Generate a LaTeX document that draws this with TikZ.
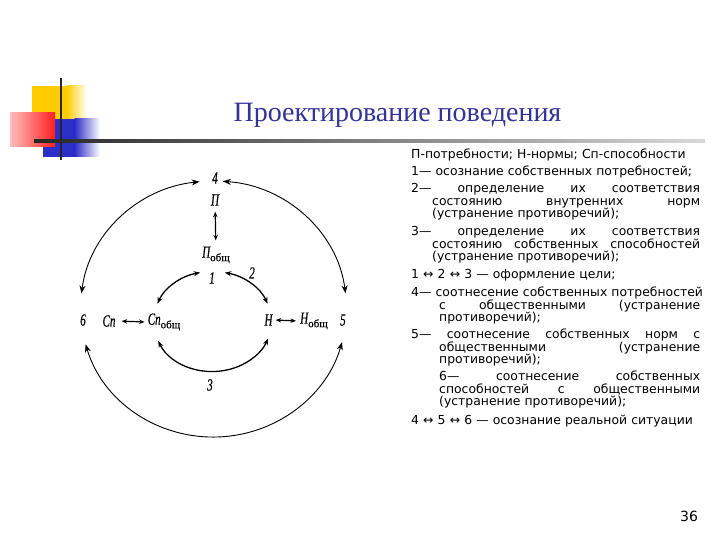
\documentclass[tikz,border=0pt]{standalone}
\usepackage{fontspec}
\setmainfont{DejaVu Sans}
\newfontfamily\txtfnt{DejaVu Sans}
\newfontfamily\dgmfnt{Liberation Serif}[FakeStretch=0.65,FakeBold=0.5]
\newfontfamily\subfnt{Liberation Serif}[FakeBold=0.4]
\newfontfamily\ttlfnt{Liberation Serif}
\usetikzlibrary{arrows.meta,calc}
\definecolor{ttlblue}{RGB}{51,51,153}
\definecolor{dyellow}{RGB}{255,204,0}
\definecolor{dblue}{RGB}{45,45,200}
\definecolor{dred}{RGB}{255,30,30}
\definecolor{dpink}{RGB}{255,190,190}
\newcommand\myjust[2]{\hbox to 289pt{\hskip#1\relax #2}}
\newcommand\myleft[2]{\hbox to 289pt{\hskip#1\relax #2\hfil}}
\newcommand\sub[1]{\raisebox{-3.5pt}{\subfnt\upshape\fontsize{11}{11}\selectfont #1}}
\tikzset{
  lbl/.style={inner sep=1pt, font=\dgmfnt\itshape\fontsize{17}{17}\selectfont},
  outerarc/.style={line width=0.9pt, {Stealth[length=8pt,width=6pt]}-{Stealth[length=8pt,width=6pt]}},
  innerarc/.style={line width=1.3pt, {Stealth[length=6.5pt,width=5pt]}-{Stealth[length=6.5pt,width=5pt]}},
  shortarr/.style={line width=1.2pt, {Stealth[length=5.5pt,width=4.5pt]}-{Stealth[length=5.5pt,width=4.5pt]}}
}
\begin{document}
\begin{tikzpicture}[x=1pt,y=1pt]
\useasboundingbox (0,0) rectangle (720,-540);
\fill[white] (0,0) rectangle (720,-540);
% decoration
\fill[dyellow] (32,-86) rectangle (67,-119);
\shade[left color=dyellow, right color=white] (66.5,-86) rectangle (87,-119);
\fill[dblue] (43,-119) rectangle (75,-157);
\shade[left color=dblue, right color=white] (74.5,-119) rectangle (100,-157);
\shade[left color=dpink, right color=dred] (10,-113) rectangle (55,-147);
\shade[left color=black!85, right color=black!15] (34,-139.3) rectangle (705,-142.7);
\fill[black!85] (59.8,-78) rectangle (62.2,-160);
% title
\node[anchor=base, text=ttlblue, font=\ttlfnt\fontsize{28}{28}\selectfont] (title) at (397.5,-122) {Проектирование поведения};
% diagram labels
\node[lbl] (n4) at (215,-178) {4};
\node[lbl] (P) at (215,-200) {П};
\node[lbl] (Pob) at (216,-255) {П\sub{общ}};
\node[lbl] (n1) at (212,-278) {1};
\node[lbl] (n2) at (252,-273) {2};
\node[lbl] (n6) at (83,-320) {6};
\node[lbl] (Sp) at (109,-321) {Сп};
\node[lbl] (Spob) at (164,-322) {Сп\sub{общ}};
\node[lbl] (N) at (268.5,-320) {Н};
\node[lbl] (Nob) at (314,-321) {Н\sub{общ}};
\node[lbl] (n5) at (343,-320) {5};
\node[lbl] (n3) at (210,-385) {3};
% arc geometry
\coordinate (O) at (213.5,-309);
\coordinate (I) at (212.5,-321.5);
\coordinate (a1) at ($(O)+(96:133pt and 128pt)$);
\coordinate (b1) at ($(O)+(86:133pt and 128pt)$);
\coordinate (c1) at ($(O)+(196:133pt and 128pt)$);
\coordinate (d1) at ($(I)+(102:59pt and 50pt)$);
\coordinate (e1) at ($(I)+(78:59pt and 50pt)$);
\coordinate (f1) at ($(I)+(203:59pt and 50pt)$);
% outer arcs
\draw[outerarc] (a1) arc[start angle=96, end angle=173, x radius=133pt, y radius=128pt];
\draw[outerarc] (b1) arc[start angle=86, end angle=7, x radius=133pt, y radius=128pt];
\draw[outerarc] (c1) arc[start angle=196, end angle=345, x radius=133pt, y radius=128pt];
% inner arcs
\draw[innerarc] (d1) arc[start angle=102, end angle=159, x radius=59pt, y radius=50pt];
\draw[innerarc] (e1) arc[start angle=78, end angle=21, x radius=59pt, y radius=50pt];
\draw[innerarc] (f1) arc[start angle=203, end angle=340, x radius=59pt, y radius=50pt];
% short arrows
\draw[shortarr, shorten <=5pt, shorten >=5pt] (P) -- (Pob);
\draw[shortarr, shorten <=5pt, shorten >=2pt] (Sp.east) -- (Spob.west);
\draw[shortarr, shorten <=2pt, shorten >=3pt] (N.east) -- (Nob.west);
% text
\node[anchor=north west, inner sep=0pt, text width=289pt, font=\txtfnt\fontsize{12.4}{12.5}\selectfont] (txt) at (411,-149) {%
\myleft{0pt}{П-потребности; Н-нормы; Сп-способности}
\vskip4.5pt
\myleft{0pt}{1— осознание собственных потребностей;}
\vskip4.5pt
\myjust{0pt}{2— \hfill определение \hfill их \hfill соответствия}
\myjust{21pt}{состоянию \hfill внутренних \hfill норм}
\myleft{21pt}{(устранение противоречий);}
\vskip5.5pt
\myjust{0pt}{3— \hfill определение \hfill их \hfill соответствия}
\myjust{21pt}{состоянию \hfill собственных \hfill способностей}
\myleft{21pt}{(устранение противоречий);}
\vskip5.5pt
\myleft{0pt}{1 ↔ 2 ↔ 3 — оформление цели;}
\vskip5.5pt
\myjust{0pt}{4— \hfill соотнесение \hfill собственных \hfill потребностей}
\myjust{28pt}{с \hfill общественными \hfill (устранение}
\myleft{28pt}{противоречий);}
\vskip4.5pt
\myjust{0pt}{5— \hfill соотнесение \hfill собственных \hfill норм \hfill с}
\myjust{28pt}{общественными \hfill (устранение}
\myleft{28pt}{противоречий);}
\vskip4.5pt
\myjust{28pt}{6— \hfill соотнесение \hfill собственных}
\myjust{28pt}{способностей \hfill с \hfill общественными}
\myleft{28pt}{(устранение противоречий);}
\vskip6.5pt
\myleft{0pt}{4 ↔ 5 ↔ 6 — осознание реальной ситуации}};
\node[font=\txtfnt\fontsize{14}{14}\selectfont] (pg) at (689,-516) {36};
\end{tikzpicture}
\end{document}
